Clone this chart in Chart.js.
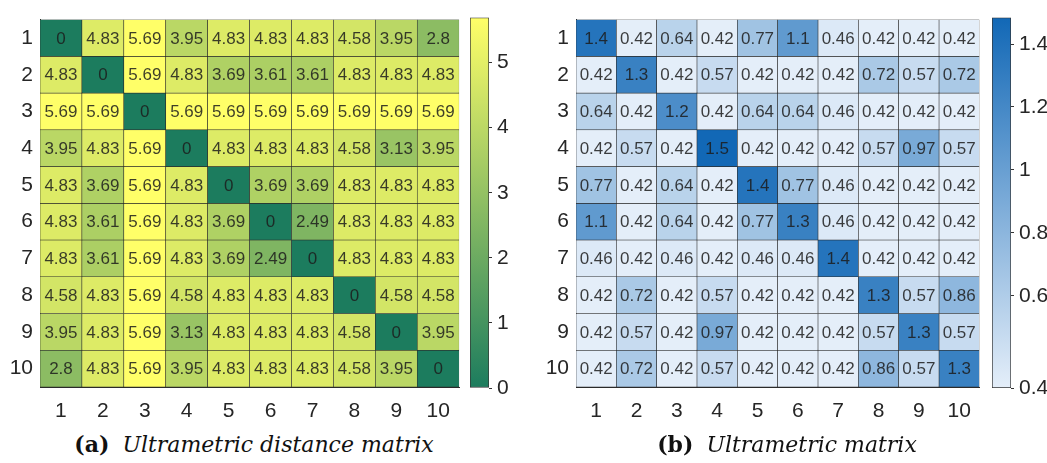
<!DOCTYPE html>
<html>
<head>
<meta charset="utf-8">
<script src="https://cdn.jsdelivr.net/npm/chart.js@4.4.1/dist/chart.umd.min.js"></script>
<style>
  body { margin: 0; background: #fff; width: 1047px; height: 463px; position: relative; overflow: hidden; }
  canvas { position: absolute; top: 0; }
  .cap { position: absolute; top: 431px; line-height: 26px; font-family: 'DejaVu Serif', serif; font-size: 22px; color: #111; white-space: nowrap; transform: translateX(-50%); }
  .cap b { margin-right: 13px; }
</style>
</head>
<body>
<canvas id="heatA" width="462" height="430" style="left:0px"></canvas>
<canvas id="cbarA" width="70" height="430" style="left:462px"></canvas>
<canvas id="heatB" width="453" height="430" style="left:530px"></canvas>
<canvas id="cbarB" width="63" height="430" style="left:984px"></canvas>
<div class="cap" style="left:254px"><b>(a)</b><i>Ultrametric distance matrix</i></div>
<div class="cap" style="left:787px"><b>(b)</b><i>Ultrametric matrix</i></div>
<script>
'use strict';

const labels = ['1', '2', '3', '4', '5', '6', '7', '8', '9', '10'];

// (a) ultrametric distance matrix
const distA = [
  [0, 4.83, 5.69, 3.95, 4.83, 4.83, 4.83, 4.58, 3.95, 2.8],
  [4.83, 0, 5.69, 4.83, 3.69, 3.61, 3.61, 4.83, 4.83, 4.83],
  [5.69, 5.69, 0, 5.69, 5.69, 5.69, 5.69, 5.69, 5.69, 5.69],
  [3.95, 4.83, 5.69, 0, 4.83, 4.83, 4.83, 4.58, 3.13, 3.95],
  [4.83, 3.69, 5.69, 4.83, 0, 3.69, 3.69, 4.83, 4.83, 4.83],
  [4.83, 3.61, 5.69, 4.83, 3.69, 0, 2.49, 4.83, 4.83, 4.83],
  [4.83, 3.61, 5.69, 4.83, 3.69, 2.49, 0, 4.83, 4.83, 4.83],
  [4.58, 4.83, 5.69, 4.58, 4.83, 4.83, 4.83, 0, 4.58, 4.58],
  [3.95, 4.83, 5.69, 3.13, 4.83, 4.83, 4.83, 4.58, 0, 3.95],
  [2.8, 4.83, 5.69, 3.95, 4.83, 4.83, 4.83, 4.58, 3.95, 0]
];

// (b) ultrametric matrix
const ultraB = [
  [1.4, 0.42, 0.64, 0.42, 0.77, 1.1, 0.46, 0.42, 0.42, 0.42],
  [0.42, 1.3, 0.42, 0.57, 0.42, 0.42, 0.42, 0.72, 0.57, 0.72],
  [0.64, 0.42, 1.2, 0.42, 0.64, 0.64, 0.46, 0.42, 0.42, 0.42],
  [0.42, 0.57, 0.42, 1.5, 0.42, 0.42, 0.42, 0.57, 0.97, 0.57],
  [0.77, 0.42, 0.64, 0.42, 1.4, 0.77, 0.46, 0.42, 0.42, 0.42],
  [1.1, 0.42, 0.64, 0.42, 0.77, 1.3, 0.46, 0.42, 0.42, 0.42],
  [0.46, 0.42, 0.46, 0.42, 0.46, 0.46, 1.4, 0.42, 0.42, 0.42],
  [0.42, 0.72, 0.42, 0.57, 0.42, 0.42, 0.42, 1.3, 0.57, 0.86],
  [0.42, 0.57, 0.42, 0.97, 0.42, 0.42, 0.42, 0.57, 1.3, 0.57],
  [0.42, 0.72, 0.42, 0.57, 0.42, 0.42, 0.42, 0.86, 0.57, 1.3]
];

// colorbar scales and ticks
const cbRangeA = [0, 5.69];
const cbTicksA = [0, 1, 2, 3, 4, 5];
const cbRangeB = [0.307, 1.484];
const cbTicksB = [0.307, 0.6, 0.8, 1, 1.2, 1.4];
const cbTickTextB = ['0.4', '0.6', '0.8', '1', '1.2', '1.4'];

// colour ramps (low -> high)
const greenLo = [28, 124, 94], greenHi = [255, 255, 104];
const blueLo = [228, 238, 249], blueHi = [18, 104, 182];

function mix(lo, hi, t) {
  t = Math.max(0, Math.min(1, t));
  return 'rgb(' + lo.map((c, i) => Math.round(c + (hi[i] - c) * t)).join(',') + ')';
}

const tickFont = { family: "'Liberation Sans', Arial, sans-serif", size: 21 };
const tickColor = '#262626';

const cellText = {
  id: 'cellText',
  afterDatasetsDraw(chart) {
    const ctx = chart.ctx;
    ctx.save();
    ctx.font = "17px 'Liberation Sans', Arial, sans-serif";
    ctx.textAlign = 'center';
    ctx.textBaseline = 'middle';
    ctx.fillStyle = 'rgba(28,28,28,0.85)';
    chart.data.datasets.forEach((ds, i) => {
      chart.getDatasetMeta(i).data.forEach((el, j) => {
        ctx.fillText(String(ds.values[j]), el.x, (el.y + el.base) / 2 + 1);
      });
    });
    ctx.restore();
  }
};

function heatmap(id, matrix, colorOf, yWidth) {
  const datasets = matrix.map((row, r) => ({
    data: row.map(() => [r + 0.5, r + 1.5]),
    values: row,
    backgroundColor: row.map(colorOf),
    borderColor: '#2a2a2a',
    borderWidth: 0.6,
    borderSkipped: false,
    barPercentage: 1,
    categoryPercentage: 1,
    grouped: false
  }));
  new Chart(document.getElementById(id), {
    type: 'bar',
    data: { labels: labels, datasets: datasets },
    options: {
      responsive: false,
      animation: false,
      layout: { padding: { top: 10, right: 2, left: 0, bottom: 0 } },
      plugins: { legend: { display: false }, tooltip: { enabled: false } },
      scales: {
        x: {
          type: 'category',
          offset: true,
          grid: { display: false, drawTicks: false },
          border: { display: true, color: '#2a2a2a' },
          ticks: { font: tickFont, color: tickColor, padding: 12, maxRotation: 0 },
          afterFit(s) { s.height = 430 - 10 - 377; }
        },
        y: {
          type: 'linear',
          reverse: true,
          min: 0.5,
          max: 10.5,
          grid: { display: false, drawTicks: false },
          border: { display: true, color: '#2a2a2a' },
          afterBuildTicks(s) { s.ticks = labels.map((l, i) => ({ value: i + 1 })); },
          ticks: { font: tickFont, color: tickColor, padding: 7, callback: (v, i) => labels[i] },
          afterFit(s) { s.width = yWidth; }
        }
      }
    },
    plugins: [cellText]
  });
}

function colorbar(id, lo, hi, range, ticks, tickText, yWidth) {
  new Chart(document.getElementById(id), {
    type: 'bar',
    data: {
      labels: [''],
      datasets: [{
        data: [range],
        backgroundColor(c) {
          const a = c.chart.chartArea;
          if (!a) return null;
          const g = c.chart.ctx.createLinearGradient(0, a.bottom, 0, a.top);
          g.addColorStop(0, mix(lo, hi, 0));
          g.addColorStop(0.5, mix(lo, hi, 0.5));
          g.addColorStop(1, mix(lo, hi, 1));
          return g;
        },
        borderColor: '#333',
        borderWidth: 1,
        borderSkipped: false,
        barPercentage: 1,
        categoryPercentage: 1
      }]
    },
    options: {
      responsive: false,
      animation: false,
      layout: { padding: { top: 10, left: 8, bottom: 42, right: 0 } },
      plugins: { legend: { display: false }, tooltip: { enabled: false } },
      scales: {
        x: { display: false },
        y: {
          position: 'right',
          min: range[0],
          max: range[1],
          grid: { drawOnChartArea: false, tickLength: 3, color: '#333' },
          border: { display: false },
          afterBuildTicks(s) { s.ticks = ticks.map(v => ({ value: v })); },
          ticks: { font: tickFont, color: tickColor, padding: 5, callback: (v, i) => tickText[i] },
          afterFit(s) { s.width = yWidth; }
        }
      }
    }
  });
}

heatmap('heatA', distA, v => mix(greenLo, greenHi, (v - cbRangeA[0]) / (cbRangeA[1] - cbRangeA[0])), 40);
heatmap('heatB', ultraB, v => mix(blueLo, blueHi, (v - 0.42) / (1.5 - 0.42)), 46);
colorbar('cbarA', greenLo, greenHi, cbRangeA, cbTicksA, cbTicksA.map(String), 43);
colorbar('cbarB', blueLo, blueHi, cbRangeB, cbTicksB, cbTickTextB, 36);
</script>
</body>
</html>
